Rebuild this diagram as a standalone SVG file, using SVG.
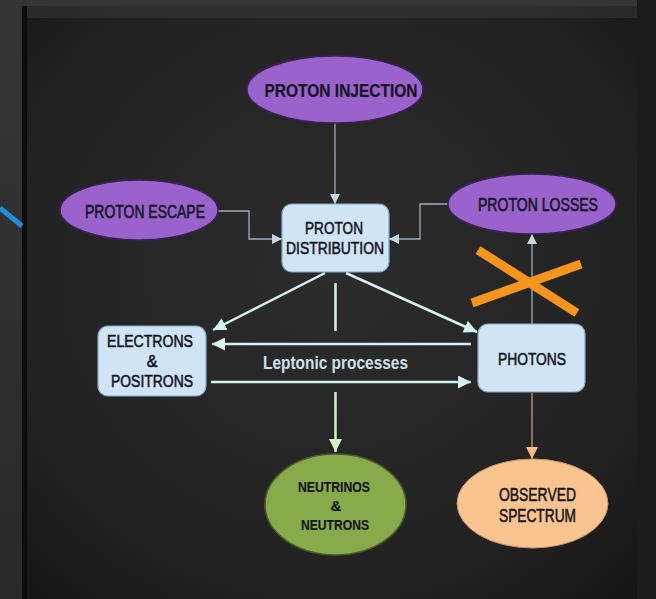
<svg xmlns="http://www.w3.org/2000/svg" width="656" height="599" viewBox="0 0 656 599">
  <defs>
    <radialGradient id="board" cx="0.5" cy="0.45" r="0.75">
      <stop offset="0" stop-color="#2c2c2c"/>
      <stop offset="0.7" stop-color="#222222"/>
      <stop offset="1" stop-color="#151515"/>
    </radialGradient>
    <linearGradient id="outer" x1="0" y1="0" x2="0" y2="1">
      <stop offset="0" stop-color="#353535"/>
      <stop offset="1" stop-color="#2a2a2a"/>
    </linearGradient>
    <marker id="arrGray" viewBox="0 0 10 10" refX="10" refY="5" markerWidth="10" markerHeight="10" markerUnits="userSpaceOnUse" orient="auto">
      <path d="M0,0 L10,5 L0,10 Z" fill="#c4d6e4"/>
    </marker>
    <marker id="arrCyan" viewBox="0 0 10 10" refX="10" refY="5" markerWidth="13" markerHeight="13" markerUnits="userSpaceOnUse" orient="auto">
      <path d="M0,0 L10,5 L0,10 Z" fill="#d4f2f0"/>
    </marker>
    <marker id="arrGreen" viewBox="0 0 10 10" refX="10" refY="5" markerWidth="13" markerHeight="13" markerUnits="userSpaceOnUse" orient="auto">
      <path d="M0,0 L10,5 L0,10 Z" fill="#cdf3c6"/>
    </marker>
    <marker id="arrTan" viewBox="0 0 10 10" refX="10" refY="5" markerWidth="12" markerHeight="12" markerUnits="userSpaceOnUse" orient="auto">
      <path d="M0,0 L10,5 L0,10 Z" fill="#f3bb86"/>
    </marker>
  </defs>
  <style>
    .purple { fill: #9a62cc; stroke: #3b2056; stroke-width: 1.5; }
    .box { fill: #cfe4f4; stroke: #8aa8c6; stroke-width: 1.2; }
    .lbl { font-family: "Liberation Sans", Arial, sans-serif; fill: #15151f; text-anchor: middle; stroke: #15151f; stroke-width: 0.55; }
    .b { font-weight: bold; stroke-width: 0.2; }
    .thin { fill: none; stroke: #9aaebf; stroke-width: 1.3; }
    .cyan { fill: none; stroke: #d4f2f0; stroke-width: 2.5; }
  </style>

  <!-- background -->
  <rect x="0" y="0" width="656" height="599" fill="url(#outer)"/>
  <rect x="22" y="6" width="615" height="593" fill="url(#board)"/>
  <rect x="22" y="6" width="615" height="12" fill="#3a3936" opacity="0.5"/>
  <rect x="22" y="6" width="5" height="593" fill="#0c0c0c"/>
  <rect x="637" y="0" width="19" height="599" fill="#1c1c1c"/>
  <line x1="0" y1="208" x2="22" y2="226" stroke="#1e8fd8" stroke-width="5"/>

  <!-- connectors -->
  <g id="connectors">
    <line class="thin" x1="335" y1="123" x2="335" y2="204" marker-end="url(#arrGray)"/>
    <polyline class="thin" points="218,211 249,211 249,239 282,239" marker-end="url(#arrGray)"/>
    <polyline class="thin" points="448,204 420,204 420,239 389,239" marker-end="url(#arrGray)"/>
    <line class="cyan" x1="325" y1="273" x2="213" y2="330" marker-end="url(#arrCyan)"/>
    <line class="cyan" x1="346" y1="273" x2="477" y2="332" marker-end="url(#arrCyan)"/>
    <line class="cyan" x1="335.5" y1="283" x2="335.5" y2="331"/>
    <line class="cyan" x1="471" y1="344" x2="212" y2="344" marker-end="url(#arrCyan)"/>
    <line class="cyan" x1="211" y1="382" x2="471" y2="382" marker-end="url(#arrCyan)"/>
    <line fill="none" stroke="#cdf3c6" stroke-width="2.5" x1="335.5" y1="392" x2="335.5" y2="452" marker-end="url(#arrGreen)"/>
    <line class="thin" x1="532" y1="324" x2="532" y2="234" marker-end="url(#arrGray)"/>
    <line fill="none" stroke="#b08a6a" stroke-width="1.5" x1="532" y1="393" x2="532" y2="459" marker-end="url(#arrTan)"/>
    <text x="335.5" y="369" font-family="Liberation Sans, Arial, sans-serif" font-weight="bold" font-size="18" fill="#cde0ea" text-anchor="middle" textLength="145" lengthAdjust="spacingAndGlyphs">Leptonic processes</text>
  </g>

  <!-- orange cross -->
  <g id="cross" stroke="#f7941d" stroke-width="9">
    <line x1="478" y1="250" x2="577" y2="313"/>
    <line x1="472" y1="303" x2="581" y2="264"/>
  </g>

  <g id="proton-injection">
    <ellipse class="purple" cx="335" cy="89.5" rx="88" ry="33.5"/>
    <text class="lbl b" x="341" y="97" font-size="19" textLength="153" lengthAdjust="spacingAndGlyphs">PROTON INJECTION</text>
  </g>

  <g id="proton-escape">
    <ellipse class="purple" cx="139" cy="210" rx="79" ry="30"/>
    <text class="lbl" x="145" y="218" font-size="17.5" textLength="120" lengthAdjust="spacingAndGlyphs">PROTON ESCAPE</text>
  </g>

  <g id="proton-losses">
    <ellipse class="purple" cx="532" cy="204" rx="84" ry="30"/>
    <text class="lbl" x="538" y="211" font-size="17.5" textLength="120" lengthAdjust="spacingAndGlyphs">PROTON LOSSES</text>
  </g>

  <g id="proton-distribution">
    <rect class="box" x="282" y="204" width="107" height="68" rx="10"/>
    <text class="lbl" x="334" y="234" font-size="17" textLength="58" lengthAdjust="spacingAndGlyphs">PROTON</text>
    <text class="lbl" x="335" y="254" font-size="17" textLength="98" lengthAdjust="spacingAndGlyphs">DISTRIBUTION</text>
  </g>

  <g id="electrons-positrons">
    <rect class="box" x="98" y="326" width="108" height="70" rx="10"/>
    <text class="lbl" x="150" y="347" font-size="16" textLength="86" lengthAdjust="spacingAndGlyphs">ELECTRONS</text>
    <text class="lbl" x="152" y="367" font-size="16">&amp;</text>
    <text class="lbl" x="152" y="387" font-size="16" textLength="82" lengthAdjust="spacingAndGlyphs">POSITRONS</text>
  </g>

  <g id="photons">
    <rect class="box" x="478" y="324" width="107" height="68" rx="10"/>
    <text class="lbl" x="532" y="365" font-size="17" textLength="68" lengthAdjust="spacingAndGlyphs">PHOTONS</text>
  </g>

  <g id="neutrinos-neutrons">
    <ellipse cx="335.5" cy="504.5" rx="70.5" ry="50.5" fill="#87aa4b" stroke="#4d5a2a" stroke-width="1.5"/>
    <text class="lbl b" x="334" y="492" font-size="15" textLength="72" lengthAdjust="spacingAndGlyphs">NEUTRINOS</text>
    <text class="lbl b" x="336" y="511" font-size="15">&amp;</text>
    <text class="lbl b" x="335" y="530" font-size="15" textLength="68" lengthAdjust="spacingAndGlyphs">NEUTRONS</text>
  </g>

  <g id="observed-spectrum">
    <ellipse cx="532.5" cy="503.5" rx="75.5" ry="44.5" fill="#f9c48f" stroke="#c39466" stroke-width="1"/>
    <text class="lbl" x="537.5" y="501" font-size="18.5" textLength="77" lengthAdjust="spacingAndGlyphs">OBSERVED</text>
    <text class="lbl" x="537.5" y="522" font-size="18.5" textLength="77" lengthAdjust="spacingAndGlyphs">SPECTRUM</text>
  </g>
</svg>
